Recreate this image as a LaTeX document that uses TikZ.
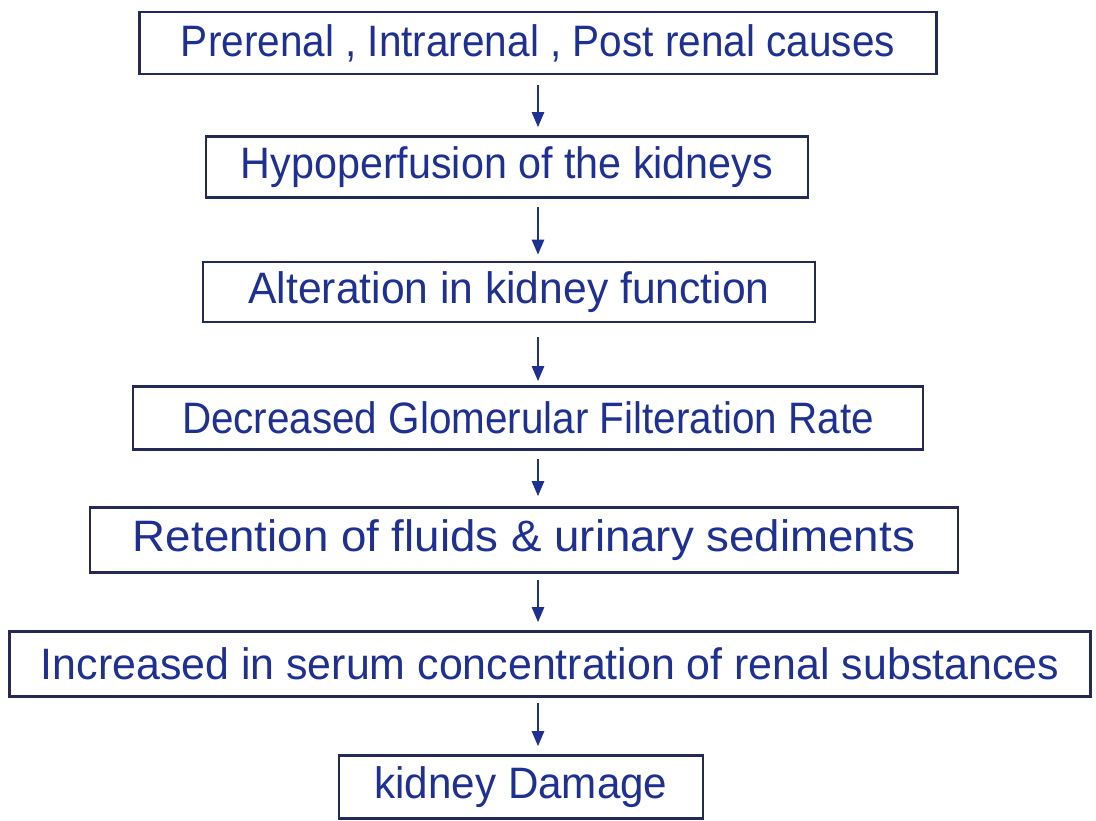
\documentclass[tikz,border=0pt]{standalone}
\usepackage{fontspec}
\setmainfont{Liberation Sans}
\usepackage{graphicx}
\usetikzlibrary{arrows.meta,calc}
\definecolor{inkblue}{RGB}{30,48,145}
\definecolor{boxline}{RGB}{35,42,90}
\newcommand{\fitw}[2]{\resizebox{#1}{\height}{#2}}
\tikzset{
  flowbox/.style={draw=boxline, line width=2.6pt, rectangle, inner sep=0pt,
    text=inkblue, font=\fontsize{44}{46}\selectfont},
  flowarrow/.style={draw=inkblue, line width=2.4pt, -{Triangle[length=15pt,width=12pt]}}
}
\begin{document}
\begin{tikzpicture}[x=1pt,y=-1pt]
\useasboundingbox (0,0) rectangle (1096,820);
\fill[white] (0,0) rectangle (1096,820);
\coordinate (ax) at (538,0);
\node[flowbox, minimum width=797pt, minimum height=62pt] (b1) at (538,43) {\fitw{714pt}{Prerenal , Intrarenal , Post renal causes}};
\node[flowbox, minimum width=602pt, minimum height=61pt] (b2) at (507,167) {\fitw{532pt}{Hypoperfusion of the kidneys}};
\node[flowbox, minimum width=612pt, minimum height=60pt] (b3) at (509,292) {\fitw{521pt}{Alteration in kidney function}};
\node[flowbox, minimum width=790pt, minimum height=63pt] (b4) at (528,418) {\fitw{692pt}{Decreased Glomerular Filteration Rate}};
\node[flowbox, minimum width=868pt, minimum height=65pt] (b5) at (524,540) {\fitw{782pt}{Retention of fluids \& urinary sediments}};
\node[flowbox, minimum width=1081pt, minimum height=65pt] (b6) at (550,664) {\fitw{1018pt}{Increased in serum concentration of renal substances}};
\node[flowbox, minimum width=364pt, minimum height=63pt] (b7) at (521,787) {\fitw{293pt}{kidney Damage}};
\draw[flowarrow] ([yshift=-10pt]b1.south -| ax) -- ([yshift=8pt]b2.north -| ax);
\draw[flowarrow] ([yshift=-8pt]b2.south -| ax) -- ([yshift=6pt]b3.north -| ax);
\draw[flowarrow] ([yshift=-14pt]b3.south -| ax) -- ([yshift=4pt]b4.north -| ax);
\draw[flowarrow] ([yshift=-8pt]b4.south -| ax) -- ([yshift=10pt]b5.north -| ax);
\draw[flowarrow] ([yshift=-6pt]b5.south -| ax) -- ([yshift=8pt]b6.north -| ax);
\draw[flowarrow] ([yshift=-5pt]b6.south -| ax) -- ([yshift=8pt]b7.north -| ax);
\end{tikzpicture}
\end{document}
